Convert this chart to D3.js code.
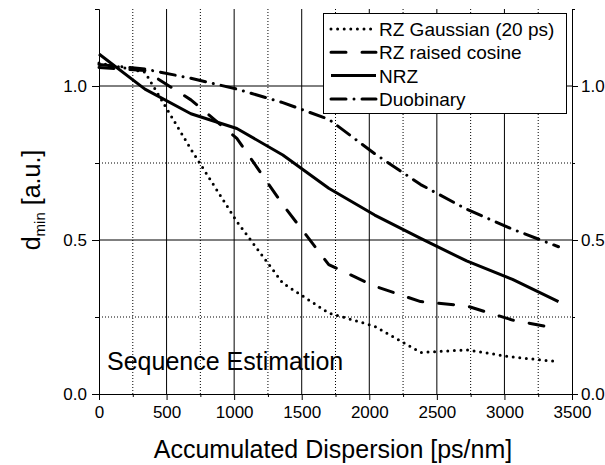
<!DOCTYPE html>
<html>
<head>
<meta charset="utf-8">
<script src="https://d3js.org/d3.v7.min.js"></script>
<style>
  body { margin: 0; background: #fff; }
  svg text { font-family: "Liberation Sans", Arial, sans-serif; fill: #000; }
</style>
</head>
<body>
<svg class="chart" width="605" height="465"></svg>
<script>
// accumulated dispersion (ps/nm), one point every 340 ps/nm
var dispersion = [0, 340, 680, 1020, 1360, 1700, 2040, 2380, 2720, 3060, 3400];

// d_min values
var rzGaussian     = [1.075, 1.045, 0.795, 0.56, 0.36, 0.263, 0.22, 0.135, 0.143, 0.12, 0.105];
var rzRaisedCosine = [1.06, 1.05, 0.955, 0.83, 0.615, 0.42, 0.35, 0.30, 0.286, 0.24, 0.212];
var nrz            = [1.104, 0.99, 0.91, 0.862, 0.776, 0.668, 0.581, 0.505, 0.432, 0.372, 0.30];
var duobinary      = [1.07, 1.055, 1.025, 0.99, 0.946, 0.892, 0.78, 0.68, 0.60, 0.535, 0.478];

var seriesNames = ["RZ Gaussian (20 ps)", "RZ raised cosine", "NRZ", "Duobinary"];

var xMajorTicks = [0, 500, 1000, 1500, 2000, 2500, 3000, 3500];
var xMinorTicks = [250, 750, 1250, 1750, 2250, 2750, 3250];
var yMajorTicks = [0, 0.5, 1.0];
var yMinorTicks = [0.25, 0.75, 1.25];

var plot = { left: 99, right: 572, top: 9, bottom: 394 };

// dotted, dashed, solid, dash-dot
var dashStyles = ["0,6.6", "15,16", null, "15,8,0.01,8"];

var chart = d3.select(".chart");

var x = d3.scaleLinear().domain([0, 3500]).range([plot.left, plot.right]);
var y = d3.scaleLinear().domain([0, 1.25]).range([plot.bottom, plot.top]);

var series = [rzGaussian, rzRaisedCosine, nrz, duobinary].map(function(vals, i) {
    return {
        name: seriesNames[i],
        dash: dashStyles[i],
        points: vals.map(function(v, j) { return [dispersion[j], v]; })
    };
});

// grid
var grid = chart.append("g");
grid.selectAll(".vmaj")
    .data(xMajorTicks.slice(1, -1))
  .enter().append("line")
    .attr("x1", x).attr("x2", x)
    .attr("y1", plot.top).attr("y2", plot.bottom)
    .attr("stroke", "#000").attr("stroke-width", 1);
grid.selectAll(".vmin")
    .data(xMinorTicks)
  .enter().append("line")
    .attr("x1", x).attr("x2", x)
    .attr("y1", plot.top).attr("y2", plot.bottom)
    .attr("stroke", "#000").attr("stroke-width", 1)
    .attr("stroke-dasharray", "1,2");
grid.selectAll(".hmaj")
    .data([0.5, 1.0])
  .enter().append("line")
    .attr("x1", plot.left).attr("x2", plot.right)
    .attr("y1", y).attr("y2", y)
    .attr("stroke", "#000").attr("stroke-width", 1);
grid.selectAll(".hmin")
    .data([0.25, 0.75])
  .enter().append("line")
    .attr("x1", plot.left).attr("x2", plot.right)
    .attr("y1", y).attr("y2", y)
    .attr("stroke", "#000").attr("stroke-width", 1)
    .attr("stroke-dasharray", "1,2");

// axes
var styleAxis = function(g) {
    g.selectAll("path, line").attr("stroke", "#000").attr("stroke-width", 1);
    g.selectAll("text").style("font-size", "17px")
        .style("font-family", "'Liberation Sans', Arial, sans-serif");
};

var fmt = d3.format(".1f");

chart.append("g")
    .attr("transform", "translate(0," + plot.bottom + ")")
    .call(d3.axisBottom(x).tickValues(xMajorTicks).tickSize(6).tickSizeOuter(0).tickPadding(6).tickFormat(d3.format("d")))
    .call(styleAxis);
chart.append("g")
    .attr("transform", "translate(0," + plot.bottom + ")")
    .call(d3.axisBottom(x).tickValues(xMinorTicks).tickSize(3).tickSizeOuter(0).tickFormat(""))
    .call(styleAxis);

chart.append("g")
    .attr("transform", "translate(" + plot.left + ",0)")
    .call(d3.axisLeft(y).tickValues(yMajorTicks).tickSize(7).tickSizeOuter(0).tickPadding(5).tickFormat(fmt))
    .call(styleAxis);
chart.append("g")
    .attr("transform", "translate(" + plot.left + ",0)")
    .call(d3.axisLeft(y).tickValues(yMinorTicks).tickSize(4).tickSizeOuter(0).tickFormat(""))
    .call(styleAxis);

chart.append("g")
    .attr("transform", "translate(" + plot.right + ",0)")
    .call(d3.axisRight(y).tickValues(yMajorTicks).tickSize(6).tickSizeOuter(0).tickPadding(3).tickFormat(fmt))
    .call(styleAxis);
chart.append("g")
    .attr("transform", "translate(" + plot.right + ",0)")
    .call(d3.axisRight(y).tickValues(yMinorTicks).tickSize(3).tickSizeOuter(0).tickFormat(""))
    .call(styleAxis);

// curves
var line = d3.line()
    .x(function(d) { return x(d[0]); })
    .y(function(d) { return y(d[1]); });

chart.append("g").selectAll("path")
    .data(series)
  .enter().append("path")
    .attr("d", function(d) { return line(d.points); })
    .attr("fill", "none")
    .attr("stroke", "#000")
    .attr("stroke-width", 3)
    .attr("stroke-linecap", function(d) { return d.dash ? "round" : "butt"; })
    .attr("stroke-linejoin", "round")
    .attr("stroke-dasharray", function(d) { return d.dash; });

// legend
var legend = chart.append("g");
legend.append("rect")
    .attr("x", 323.5).attr("y", 13.5)
    .attr("width", 243).attr("height", 100)
    .attr("fill", "#fff").attr("stroke", "#000").attr("stroke-width", 1);

var rows = legend.selectAll(".row")
    .data(series)
  .enter().append("g")
    .attr("transform", function(d, i) { return "translate(0," + (29 + i * 23.3) + ")"; });
rows.append("line")
    .attr("x1", 331).attr("x2", 376)
    .attr("stroke", "#000").attr("stroke-width", 3)
    .attr("stroke-linecap", function(d) { return d.dash ? "round" : "butt"; })
    .attr("stroke-dasharray", function(d) { return d.dash; });
rows.append("text")
    .attr("x", 379).attr("y", 7)
    .style("font-size", "19px")
    .text(function(d) { return d.name; });

// annotation and titles
chart.append("text")
    .attr("x", 107).attr("y", 370)
    .style("font-size", "25px")
    .text("Sequence Estimation");

chart.append("text")
    .attr("x", 333).attr("y", 458)
    .attr("text-anchor", "middle")
    .style("font-size", "25px")
    .text("Accumulated Dispersion [ps/nm]");

var yTitle = chart.append("text")
    .attr("transform", "translate(40,200) rotate(-90)")
    .attr("text-anchor", "middle")
    .style("font-size", "25px");
yTitle.append("tspan").text("d");
yTitle.append("tspan").attr("dy", 5).style("font-size", "15px").text("min");
yTitle.append("tspan").attr("dy", -5).text(" [a.u.]");
</script>
</body>
</html>
